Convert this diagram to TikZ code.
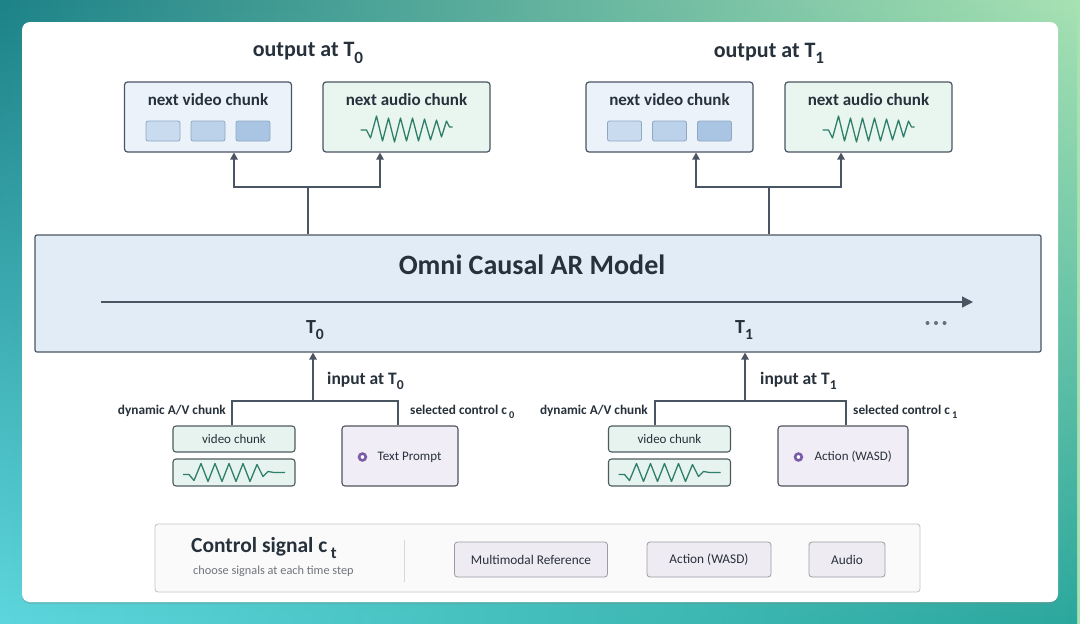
\documentclass[tikz,border=0pt]{standalone}
\usepackage{fontspec}
\setmainfont{Carlito}
\usepackage{xcolor}
\usepackage{tikz}
\usetikzlibrary{positioning,arrows.meta,calc,fadings,shadows}

\definecolor{edgec}{HTML}{4A5563}
\definecolor{ink}{HTML}{27313B}
\definecolor{subtle}{HTML}{6F757D}
\definecolor{vidfill}{HTML}{EBF2FA}
\definecolor{audfill}{HTML}{E9F5EF}
\definecolor{modfill}{HTML}{E2ECF6}
\definecolor{fra}{HTML}{C9DCEF}
\definecolor{frb}{HTML}{BCD1EA}
\definecolor{frc}{HTML}{AAC5E4}
\definecolor{fredge}{HTML}{8EA7C2}
\definecolor{wavec}{HTML}{2F7F6A}
\definecolor{infill}{HTML}{E6F3EF}
\definecolor{inedge}{HTML}{4E5B5E}
\definecolor{ctrlfill}{HTML}{F0EDF7}
\definecolor{ctrledge}{HTML}{50545C}
\definecolor{purp}{HTML}{7A5BA8}
\definecolor{panelfill}{HTML}{FAFAFA}
\definecolor{paneledge}{HTML}{C3C6CB}
\definecolor{btnfill}{HTML}{EEEBF2}
\definecolor{btnedge}{HTML}{9D9AA4}
\definecolor{bgtl}{HTML}{1D8288}
\definecolor{bgtr}{HTML}{A8E2B3}
\definecolor{bgbl}{HTML}{5DD7DD}
\definecolor{bgbr}{HTML}{2BA79D}

% subscript a bit larger than \textsubscript
\newcommand\tsub[1]{\raisebox{-0.28em}{\scalebox{0.78}{#1}}}
\newcommand\fsz[1]{\fontsize{#1}{#1}\selectfont}

\begin{document}
\begin{tikzpicture}[
  x=1pt, y=-1pt,
  outbox/.style={draw=edgec,line width=1.2pt,rounded corners=3pt,minimum width=167,minimum height=70},
  vidout/.style={outbox,fill=vidfill},
  audout/.style={outbox,fill=audfill},
  hd/.style={font=\bfseries\fsz{17},text=ink,inner sep=0pt},
  big/.style={font=\bfseries\fsz{22},text=ink,inner sep=0pt},
  tick/.style={font=\bfseries\fsz{20},text=ink,inner sep=0pt},
  frame/.style={draw=fredge,line width=0.8pt,rounded corners=2pt,minimum width=34,minimum height=20,inner sep=0pt},
  inbox/.style={draw=inedge,fill=infill,line width=1.1pt,rounded corners=3pt,minimum width=122,minimum height=26,font=\fsz{13},text=ink},
  ctrl/.style={draw=ctrledge,fill=ctrlfill,line width=1.1pt,rounded corners=3pt,minimum height=60},
  ctrltxt/.style={font=\fsz{13},text=ink,inner sep=0pt,anchor=west},
  side/.style={font=\bfseries\fsz{13.3},text=ink,inner sep=0pt},
  btn/.style={draw=btnedge,fill=btnfill,line width=0.8pt,rounded corners=3pt,minimum height=35,font=\fsz{13.3},text=ink},
  dot/.style={draw=purp,line width=2.6pt,fill=white},
  conn/.style={draw=edgec,line width=1.4pt},
  arr/.style={conn,-{Triangle[length=7pt,width=7.5pt]}},
  owave/.pic={\draw[wavec,line width=1.3pt,line join=round]
    (-46,1) -- (-40,1) -- (-36,9) -- (-30,-13) -- (-24,12) -- (-18,-11) -- (-12,13) -- (-6,-11)
    -- (0,12) -- (6,-11) -- (12,12) -- (18,-10) -- (24,11) -- (30,-9) -- (35,8) -- (40,-8)
    -- (43,-2) -- (46,-2);},
  iwave/.pic={\draw[wavec,line width=1.3pt,line join=round]
    (-51,2) -- (-45,2) -- (-40,8) -- (-33,-9) -- (-26,9) -- (-19,-9) -- (-12,9) -- (-5,-9)
    -- (2,9) -- (9,-9) -- (16,9) -- (23,-8) -- (29,4) -- (34,-1) -- (40,0) -- (51,0);},
]
\useasboundingbox (0,0) rectangle (1080,624);

% background and card
\shade[left color=bgtl,right color=bgtr] (0,0) rectangle (1080,624);
\shade[left color=bgbl,right color=bgbr,path fading=north] (0,0) rectangle (1080,624);
\fill[white,rounded corners=8pt,drop shadow={opacity=.25,shadow xshift=0pt,shadow yshift=-2pt}]
  (22,22) rectangle (1058,602);

% model
\node[draw=edgec,fill=modfill,line width=1.2pt,rounded corners=2pt,
      minimum width=1006,minimum height=117] (model) at (538,293.5) {};
\node[font=\bfseries\fsz{28},text=ink,inner sep=0pt] (mtitle) at (532,265) {Omni Causal AR Model};
\coordinate (tl0) at (101,302);
\coordinate (tl1) at (973,302);
\draw[edgec,line width=1.4pt,-{Triangle[length=11pt,width=11pt]}] (tl0) -- (tl1);
\node[tick] (t0) at (315,330) {T\tsub{0}};
\node[tick] (t1) at (744,330) {T\tsub{1}};
\foreach \dx in {-8.5,0,8.5} \fill[edgec!85] (936+\dx,323) circle (2);

% outputs
\node[big] (o0) at (308,53) {output at T\tsub{0}};
\node[big] (o1) at (769,53) {output at T\tsub{1}};
\node[vidout] (v0) at (208,117) {};
\node[audout] (a0) at (406.5,117) {};
\node[vidout] (v1) at (669.5,117) {};
\node[audout] (a1) at (868.5,117) {};
\foreach \b in {v0,a0,v1,a1} {
  \coordinate (\b h) at ($(\b.north)+(0,18)$);
}
\node[hd] at (v0h) {next video chunk};
\node[hd] at (a0h) {next audio chunk};
\node[hd] at (v1h) {next video chunk};
\node[hd] at (a1h) {next audio chunk};
\foreach \b in {v0,v1} {
  \foreach \dx/\c in {-45/fra,0/frb,45/frc}
    \node[frame,fill=\c] at ($(\b.center)+(\dx,14)$) {};
}
\pic at ($(a0.center)+(0,12)$) {owave};
\pic at ($(a1.center)+(0,12)$) {owave};

\coordinate (s0) at (308,187);
\coordinate (s1) at (769,187);
\draw[conn] (model.north -| s0) -- (s0);
\draw[arr] (s0) -| ([xshift=26]v0.south);
\draw[arr] (s0) -| ([xshift=-26.5]a0.south);
\draw[conn] (model.north -| s1) -- (s1);
\draw[arr] (s1) -| ([xshift=26.5]v1.south);
\draw[arr] (s1) -| ([xshift=-27.5]a1.south);

% inputs at T0
\node[inbox] (vc0) at (234,439) {video chunk};
\node[inbox,minimum height=27] (wv0) at (234,472.5) {};
\pic at (wv0.center) {iwave};
\node[ctrl,minimum width=116] (tp0) at (400,456) {};
\draw[dot] ($(tp0.west)+(21,1)$) circle (3.4);
\node[ctrltxt] at ($(tp0.west)+(36,1)$) {Text Prompt};

\coordinate (j0) at (313,401);
\draw[arr] (j0) -- (j0 |- model.south);
\draw[conn] ([xshift=-2]vc0.north) |- (j0) -| ([xshift=-2]tp0.north);
\node[font=\bfseries\fsz{17.5},text=ink,inner sep=0pt,anchor=west] at (327,381) {input at T\tsub{0}};
\node[side,anchor=east] at (226,411) {dynamic A/V chunk};
\node[side,anchor=west] at (410,412) {selected control c\,\tsub{0}};

% inputs at T1
\node[inbox] (vc1) at (669.5,439) {video chunk};
\node[inbox,minimum height=27] (wv1) at (669.5,472.5) {};
\pic at (wv1.center) {iwave};
\node[ctrl,minimum width=130] (tp1) at (843,456) {};
\draw[dot] ($(tp1.west)+(21,1)$) circle (3.4);
\node[ctrltxt] at ($(tp1.west)+(37,1)$) {Action (WASD)};

\coordinate (j1) at (745,401);
\draw[arr] (j1) -- (j1 |- model.south);
\draw[conn] ([xshift=-14.5]vc1.north) |- (j1) -| ([xshift=3]tp1.north);
\node[font=\bfseries\fsz{17.5},text=ink,inner sep=0pt,anchor=west] at (760,381) {input at T\tsub{1}};
\node[side,anchor=east] at (648,411) {dynamic A/V chunk};
\node[side,anchor=west] at (853,412) {selected control c\,\tsub{1}};

% control signal panel
\node[draw=paneledge,fill=panelfill,line width=0.9pt,rounded corners=3pt,
      minimum width=765,minimum height=68] (panel) at (537.5,558) {};
\node[font=\bfseries\fsz{21.5},text=ink,inner sep=0pt,anchor=west] at (191,548) {Control signal c\,\tsub{t}};
\node[font=\fsz{12.3},text=subtle,inner sep=0pt,anchor=west] at (193,571) {choose signals at each time step};
\draw[paneledge!70,line width=0.8pt] (404,540) -- (404,582);
\node[btn,minimum width=153] (mm)  at (531,559.5) {Multimodal Reference};
\node[btn,minimum width=124] (act) at (709,559.5) {Action (WASD)};
\node[btn,minimum width=76]  (aud) at (847,559.5) {Audio};
\end{tikzpicture}
\end{document}
